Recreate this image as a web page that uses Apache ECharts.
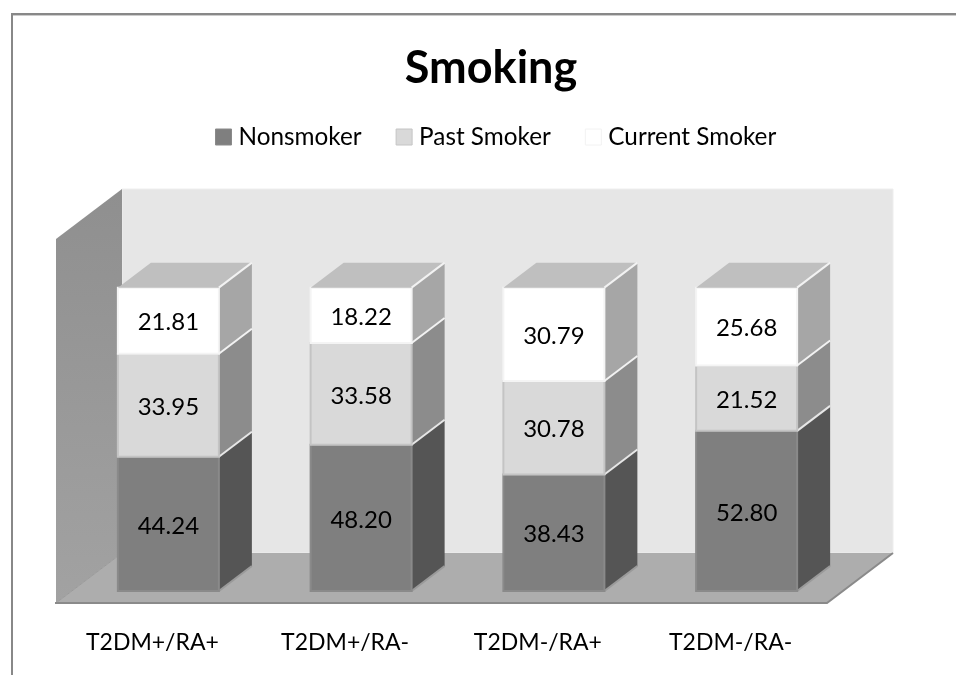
<!DOCTYPE html>
<html>
<head>
<meta charset="utf-8">
<style>html,body{margin:0;padding:0;background:#fff}#c{width:956px;height:675px}</style>
<script src="https://cdn.jsdelivr.net/npm/echarts@6/dist/echarts.min.js"></script>
</head>
<body>
<div id="c"></div>
<script>
const titleText = 'Smoking';
const categories = ['T2DM+/RA+', 'T2DM+/RA-', 'T2DM-/RA+', 'T2DM-/RA-'];
const nonsmoker = [44.24, 48.20, 38.43, 52.80];
const pastSmoker = [33.95, 33.58, 30.78, 21.52];
const currentSmoker = [21.81, 18.22, 30.79, 25.68];
const axisMax = 120;
const FONT = 'Lato, "Open Sans", sans-serif';

const chart = echarts.init(document.getElementById('c'), null, {renderer: 'canvas'});

const barRatio = 0.524, barDX = 33, barDY = -25, labelShift = 2;
const floorFront = {dx: -16, dy: 12}, floorBack = {dx: 50, dy: -38};

function poly(points, fill, stroke, lw) {
  return {type: 'polygon', shape: {points}, style: {fill, stroke: stroke || 'none', lineWidth: lw || 0}};
}

function wallsItem(params, api) {
  const band = api.size([1, 0])[0];
  const l = api.coord([0, 0])[0] - band / 2;
  const r = l + band * categories.length;
  const b = api.coord([0, 0])[1];
  const t = api.coord([0, axisMax])[1];
  const F = floorFront, K = floorBack;
  const sideGrad = new echarts.graphic.LinearGradient(0, 0, 0, 1, [
    {offset: 0, color: '#8f8f8f'}, {offset: 1, color: '#a2a2a2'}
  ]);
  return {type: 'group', children: [
    poly([[l + K.dx, t + K.dy], [r + K.dx, t + K.dy], [r + K.dx, b + K.dy], [l + K.dx, b + K.dy]], '#e6e6e6', '#eeeeee', 1),
    poly([[l + F.dx, t + F.dy], [l + K.dx, t + K.dy], [l + K.dx, b + K.dy], [l + F.dx, b + F.dy]], sideGrad),
    poly([[l + F.dx, b + F.dy], [r + F.dx, b + F.dy], [r + K.dx, b + K.dy], [l + K.dx, b + K.dy]], '#adadad'),
    {type: 'polyline', shape: {points: [[l + F.dx, b + F.dy], [l + K.dx, b + K.dy]]}, style: {stroke: '#9a9a9a', lineWidth: 1, fill: 'none'}},
    {type: 'polyline', shape: {points: [[l + F.dx - 1, b + F.dy], [r + F.dx, b + F.dy], [r + K.dx, b + K.dy]]}, style: {stroke: '#8a8a8a', lineWidth: 2, fill: 'none'}}
  ]};
}

function barItem(skin, isTop) {
  return function (params, api) {
    const cat = api.value(0), val = api.value(1), base = api.value(2);
    const band = api.size([1, 0])[0];
    const w = band * barRatio;
    const cx = api.coord([cat, 0])[0];
    const x0 = cx - w / 2, x1 = cx + w / 2;
    const y0 = api.coord([cat, base])[1];
    const y1 = api.coord([cat, base + val])[1];
    const children = [
      poly([[x1, y1], [x1 + barDX, y1 + barDY], [x1 + barDX, y0 + barDY], [x1, y0]], skin.side),
      {type: 'polyline', shape: {points: [[x1 + barDX, y0 + barDY], [x1, y0]]}, style: {stroke: skin.edge, lineWidth: 2, fill: 'none'}},
      poly([[x0, y0], [x1, y0], [x1, y1], [x0, y1]], skin.front, skin.frontEdge, 2)
    ];
    if (isTop) {
      children.push(poly([[x0, y1], [x1, y1], [x1 + barDX, y1 + barDY], [x0 + barDX, y1 + barDY]], '#bfbfbf'));
      children.push({type: 'polyline', shape: {points: [[x1, y1], [x1 + barDX, y1 + barDY]]}, style: {stroke: '#f2f2f2', lineWidth: 2, fill: 'none'}});
    }
    children.push({type: 'text', x: cx, y: (y0 + y1) / 2 + labelShift, style: {
      text: val.toFixed(2), fill: '#000', font: '24px ' + FONT, align: 'center', verticalAlign: 'middle'
    }});
    return {type: 'group', children};
  };
}

function rows(values, below) {
  return values.map((v, i) => [i, v, below.reduce((s, a) => s + a[i], 0)]);
}

const skins = {
  non:  {front: '#7f7f7f', side: '#555555', edge: '#9a9a9a', frontEdge: '#8a8a8a'},
  past: {front: '#d9d9d9', side: '#8c8c8c', edge: '#e6e6e6', frontEdge: '#c4c4c4'},
  cur:  {front: '#ffffff', side: '#a6a6a6', edge: '#f2f2f2', frontEdge: '#f4f4f4'}
};
const dims = {x: 0, y: 1};

chart.setOption({
  animation: false,
  backgroundColor: '#fff',
  title: {
    text: titleText, left: 486, top: 41, textAlign: 'center',
    textStyle: {fontFamily: FONT, fontWeight: 'bold', fontSize: 45, color: '#000'}
  },
  legend: {
    left: 210, top: 120, itemGap: 34, itemWidth: 16, itemHeight: 16, icon: 'rect',
    selectedMode: false,
    textStyle: {fontFamily: FONT, fontSize: 24.3, color: '#000', padding: [0, 0, 0, 2]},
    data: [
      {name: 'Nonsmoker', itemStyle: {color: '#7f7f7f', borderColor: '#8a8a8a', borderWidth: 1}},
      {name: 'Past Smoker', itemStyle: {color: '#d9d9d9', borderColor: '#c4c4c4', borderWidth: 1}},
      {name: 'Current Smoker', itemStyle: {color: '#ffffff', borderColor: '#f2f2f2', borderWidth: 1}}
    ]
  },
  grid: {left: 72, top: 227, width: 771, height: 364, containLabel: false},
  xAxis: {
    type: 'category', data: categories,
    axisLine: {show: false}, axisTick: {show: false}, splitLine: {show: false},
    axisLabel: {fontFamily: FONT, fontSize: 23, color: '#000', margin: 40, padding: [0, 32, 0, 0], interval: 0}
  },
  yAxis: {type: 'value', min: 0, max: axisMax, interval: 20, show: false},
  graphic: [
    {type: 'rect', shape: {x: 11, y: 13, width: 945, height: 2}, style: {fill: '#888888'}, silent: true},
    {type: 'rect', shape: {x: 13, y: 15, width: 943, height: 1}, style: {fill: '#cccccc'}, silent: true},
    {type: 'rect', shape: {x: 11, y: 13, width: 2, height: 662}, style: {fill: '#888888'}, silent: true}
  ],
  series: [
    {type: 'custom', name: 'walls', data: [[0, 0]], encode: dims, renderItem: wallsItem, silent: true, clip: false, z: 1},
    {type: 'custom', name: 'Nonsmoker', itemStyle: {color: '#7f7f7f'}, data: rows(nonsmoker, []), encode: dims,
      renderItem: barItem(skins.non, false), clip: false, z: 2},
    {type: 'custom', name: 'Past Smoker', itemStyle: {color: '#d9d9d9'}, data: rows(pastSmoker, [nonsmoker]), encode: dims,
      renderItem: barItem(skins.past, false), clip: false, z: 3},
    {type: 'custom', name: 'Current Smoker', itemStyle: {color: '#ffffff'}, data: rows(currentSmoker, [nonsmoker, pastSmoker]), encode: dims,
      renderItem: barItem(skins.cur, true), clip: false, z: 4}
  ]
});
</script>
</body>
</html>
